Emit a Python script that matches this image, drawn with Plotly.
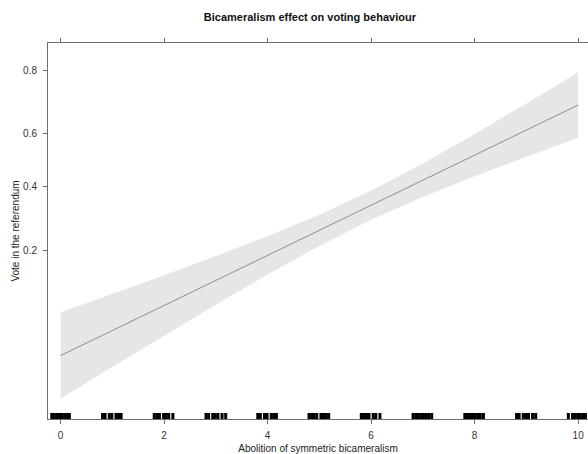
import numpy as np
import plotly.graph_objects as go

# Data (probability scale)
x_vals = [0, 1, 2, 3, 4, 5, 6, 7, 8, 9, 10]
fit = [0.0474, 0.0682, 0.0971, 0.1365, 0.1885, 0.2545, 0.334, 0.4243, 0.520, 0.614, 0.7006]
lower = [0.0251, 0.0401, 0.0633, 0.098, 0.1474, 0.2117, 0.286, 0.363, 0.439, 0.5137, 0.586]
upper = [0.0880, 0.1136, 0.1462, 0.1868, 0.2378, 0.3025, 0.3858, 0.4883, 0.600, 0.7058, 0.7946]

y_tick_vals = [0.2, 0.4, 0.6, 0.8]
y_tick_text = ["0.2", "0.4", "0.6", "0.8"]
x_tick_vals = [0, 2, 4, 6, 8, 10]

rug = [
    -0.17, -0.12, -0.07, -0.02, 0.03, 0.08, 0.13, 0.17,
    0.81, 0.86, 0.94, 0.99, 1.07, 1.12, 1.17,
    1.81, 1.86, 1.91, 1.99, 2.04, 2.09, 2.17,
    2.81, 2.86, 2.94, 2.99, 3.04, 3.12, 3.19,
    3.81, 3.86, 3.94, 3.99, 4.07, 4.12, 4.17,
    4.80, 4.85, 4.90, 4.95, 5.03, 5.08, 5.13, 5.18,
    5.81, 5.86, 5.91, 5.96, 6.04, 6.09, 6.17,
    6.81, 6.86, 6.91, 6.96, 7.01, 7.06, 7.11, 7.17,
    7.81, 7.86, 7.91, 7.96, 8.01, 8.06, 8.11, 8.17,
    8.81, 8.86, 8.94, 8.99, 9.04, 9.12, 9.18,
    9.81, 9.89, 9.94, 9.99, 10.04, 10.09, 10.14,
]


def logit(p):
    p = np.asarray(p, dtype=float)
    return np.log(p / (1 - p))


fig = go.Figure()

# confidence band
fig.add_trace(go.Scatter(
    x=x_vals + x_vals[::-1],
    y=list(logit(upper)) + list(logit(lower)[::-1]),
    fill="toself", fillcolor="#e6e6e6",
    line=dict(width=0), mode="lines", hoverinfo="skip", showlegend=False,
))
# fitted line
fig.add_trace(go.Scatter(
    x=x_vals, y=logit(fit), mode="lines",
    line=dict(color="#8c8c8c", width=1), showlegend=False,
))
# rug
rx, ry = [], []
for v in rug:
    rx += [v, v, None]
    ry += [0, 6, None]
fig.add_trace(go.Scatter(
    x=rx, y=ry, yaxis="y2", mode="lines",
    line=dict(color="black", width=3), showlegend=False, hoverinfo="skip",
))

axis_col = "#6e6e6e"
font_fam = "Liberation Sans, Arial, sans-serif"

fig.update_layout(
    width=588, height=454,
    margin=dict(l=48, r=0, t=43, b=35, autoexpand=False),
    paper_bgcolor="white", plot_bgcolor="white",
    font=dict(family=font_fam, size=10, color="#333333"),
    title=dict(text="<b>Bicameralism effect on voting behaviour</b>",
               x=0.527, xref="container", xanchor="center",
               y=0.962, yref="container", yanchor="middle",
               font=dict(size=11, color="#111111")),
    xaxis=dict(
        range=[-0.243, 10.19], tickvals=x_tick_vals,
        showgrid=False, zeroline=False, automargin=False,
        showline=True, linecolor=axis_col, linewidth=1, mirror="ticks",
        ticks="outside", ticklen=4, tickcolor=axis_col, tickwidth=1,
        ticklabelstandoff=3,
        title=dict(text="Abolition of symmetric bicameralism", standoff=6,
                   font=dict(size=10, color="#222222")),
        tickfont=dict(size=10, color="#333333"),
    ),
    yaxis=dict(
        range=[-3.975, 1.803], tickvals=list(logit(y_tick_vals)), ticktext=y_tick_text,
        showgrid=False, zeroline=False, automargin=False,
        showline=True, linecolor=axis_col, linewidth=1, mirror=False,
        ticks="outside", ticklen=4, tickcolor=axis_col, tickwidth=1,
        ticklabelstandoff=4,
        title=dict(text="Vote in the referendum", standoff=1,
                   font=dict(size=10, color="#222222")),
        tickfont=dict(size=10, color="#333333"),
    ),
    yaxis2=dict(range=[0, 376], overlaying="y", visible=False, fixedrange=True),
)

fig.write_html(
    "out.html",
    config={"displayModeBar": False},
    post_script="document.body.style.margin='0';document.body.style.padding='0';",
)
